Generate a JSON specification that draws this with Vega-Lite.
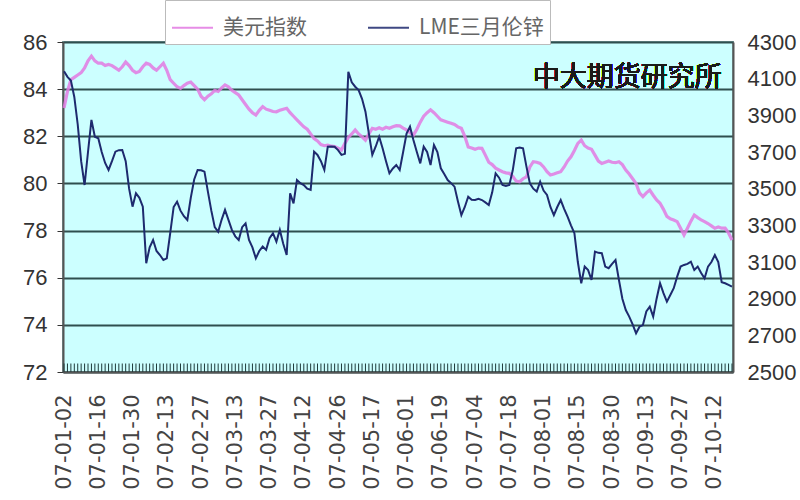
{
  "$schema": "https://vega.github.io/schema/vega-lite/v6.json",
  "width": 670,
  "height": 330,
  "autosize": {"type": "none"},
  "padding": {"left": 63, "top": 42, "right": 67, "bottom": 128},
  "background": "#FFFFFF",
  "config": {
    "view": {"fill": "#CCFFFF", "stroke": "#7A9A9A", "strokeWidth": 2},
    "axis": {"labelFont": "Liberation Sans", "labelColor": "#333333", "domainColor": "#555555", "domainWidth": 2, "tickColor": "#333333", "title": null}
  },
  "data": {"values": [
    {"d":"07-01-02","u":83.2,"z":4140},{"d":"07-01-03","u":83.9,"z":4110},{"d":"07-01-04","u":84.4,"z":4090},{"d":"07-01-05","u":84.5,"z":4000},
    {"d":"07-01-08","u":84.6,"z":3850},{"d":"07-01-09","u":84.7,"z":3650},{"d":"07-01-10","u":84.9,"z":3520},{"d":"07-01-11","u":85.2,"z":3700},
    {"d":"07-01-12","u":85.4,"z":3875},{"d":"07-01-15","u":85.2,"z":3783},{"d":"07-01-16","u":85.1,"z":3775},{"d":"07-01-17","u":85.1,"z":3700},
    {"d":"07-01-18","u":85.0,"z":3640},{"d":"07-01-19","u":85.05,"z":3602},{"d":"07-01-22","u":85.0,"z":3650},{"d":"07-01-23","u":84.9,"z":3702},
    {"d":"07-01-24","u":84.8,"z":3710},{"d":"07-01-25","u":84.95,"z":3711},{"d":"07-01-26","u":85.15,"z":3650},{"d":"07-01-29","u":85.0,"z":3500},
    {"d":"07-01-30","u":84.8,"z":3402},{"d":"07-01-31","u":84.7,"z":3475},{"d":"07-02-01","u":84.75,"z":3450},{"d":"07-02-02","u":84.95,"z":3402},
    {"d":"07-02-05","u":85.1,"z":3093},{"d":"07-02-06","u":85.05,"z":3180},{"d":"07-02-07","u":84.9,"z":3220},{"d":"07-02-08","u":84.8,"z":3160},
    {"d":"07-02-09","u":84.95,"z":3138},{"d":"07-02-12","u":85.1,"z":3111},{"d":"07-02-13","u":84.8,"z":3120},{"d":"07-02-14","u":84.4,"z":3257},
    {"d":"07-02-15","u":84.25,"z":3400},{"d":"07-02-16","u":84.1,"z":3429},{"d":"07-02-19","u":84.03,"z":3380},{"d":"07-02-20","u":84.15,"z":3350},
    {"d":"07-02-21","u":84.25,"z":3329},{"d":"07-02-22","u":84.3,"z":3450},{"d":"07-02-23","u":84.15,"z":3550},{"d":"07-02-26","u":84.0,"z":3602},
    {"d":"07-02-27","u":83.7,"z":3600},{"d":"07-02-28","u":83.55,"z":3593},{"d":"07-03-01","u":83.7,"z":3484},{"d":"07-03-02","u":83.8,"z":3380},
    {"d":"07-03-05","u":83.95,"z":3290},{"d":"07-03-06","u":83.9,"z":3265},{"d":"07-03-07","u":84.05,"z":3330},{"d":"07-03-08","u":84.18,"z":3384},
    {"d":"07-03-09","u":84.1,"z":3330},{"d":"07-03-12","u":83.95,"z":3275},{"d":"07-03-13","u":83.85,"z":3240},{"d":"07-03-14","u":83.75,"z":3220},
    {"d":"07-03-15","u":83.55,"z":3290},{"d":"07-03-16","u":83.35,"z":3311},{"d":"07-03-19","u":83.15,"z":3220},{"d":"07-03-20","u":83.0,"z":3180},
    {"d":"07-03-21","u":82.9,"z":3120},{"d":"07-03-22","u":83.1,"z":3160},{"d":"07-03-23","u":83.26,"z":3184},{"d":"07-03-26","u":83.15,"z":3166},
    {"d":"07-03-27","u":83.1,"z":3230},{"d":"07-03-28","u":83.05,"z":3257},{"d":"07-03-29","u":83.04,"z":3211},{"d":"07-03-30","u":83.1,"z":3275},
    {"d":"07-04-02","u":83.15,"z":3200},{"d":"07-04-03","u":83.19,"z":3138},{"d":"07-04-04","u":83.0,"z":3475},{"d":"07-04-05","u":82.85,"z":3420},
    {"d":"07-04-10","u":82.7,"z":3547},{"d":"07-04-11","u":82.55,"z":3530},{"d":"07-04-12","u":82.4,"z":3520},{"d":"07-04-13","u":82.3,"z":3500},
    {"d":"07-04-16","u":82.1,"z":3493},{"d":"07-04-17","u":81.9,"z":3702},{"d":"07-04-18","u":81.8,"z":3684},{"d":"07-04-19","u":81.65,"z":3650},
    {"d":"07-04-20","u":81.6,"z":3602},{"d":"07-04-23","u":81.62,"z":3729},{"d":"07-04-24","u":81.58,"z":3730},{"d":"07-04-25","u":81.56,"z":3729},
    {"d":"07-04-26","u":81.5,"z":3710},{"d":"07-04-27","u":81.42,"z":3684},{"d":"07-04-30","u":81.7,"z":3690},{"d":"07-05-08","u":81.95,"z":4138},
    {"d":"07-05-09","u":82.1,"z":4080},{"d":"07-05-10","u":82.27,"z":4056},{"d":"07-05-11","u":82.1,"z":4038},{"d":"07-05-14","u":81.98,"z":3990},
    {"d":"07-05-15","u":81.84,"z":3920},{"d":"07-05-16","u":82.1,"z":3800},{"d":"07-05-17","u":82.34,"z":3684},{"d":"07-05-18","u":82.3,"z":3730},
    {"d":"07-05-21","u":82.36,"z":3783},{"d":"07-05-22","u":82.3,"z":3720},{"d":"07-05-23","u":82.38,"z":3650},{"d":"07-05-24","u":82.34,"z":3584},
    {"d":"07-05-25","u":82.4,"z":3610},{"d":"07-05-29","u":82.45,"z":3629},{"d":"07-05-30","u":82.44,"z":3602},{"d":"07-05-31","u":82.35,"z":3700},
    {"d":"07-06-01","u":82.27,"z":3800},{"d":"07-06-04","u":82.15,"z":3838},{"d":"07-06-05","u":82.05,"z":3765},{"d":"07-06-06","u":82.3,"z":3700},
    {"d":"07-06-07","u":82.6,"z":3638},{"d":"07-06-11","u":82.85,"z":3729},{"d":"07-06-12","u":83.0,"z":3700},{"d":"07-06-13","u":83.12,"z":3629},
    {"d":"07-06-14","u":83.0,"z":3738},{"d":"07-06-18","u":82.85,"z":3700},{"d":"07-06-19","u":82.7,"z":3611},{"d":"07-06-20","u":82.65,"z":3580},
    {"d":"07-06-21","u":82.6,"z":3547},{"d":"07-06-22","u":82.55,"z":3530},{"d":"07-06-25","u":82.5,"z":3511},{"d":"07-06-26","u":82.4,"z":3430},
    {"d":"07-06-27","u":82.34,"z":3356},{"d":"07-06-28","u":82.0,"z":3400},{"d":"07-06-29","u":81.55,"z":3456},{"d":"07-07-03","u":81.5,"z":3440},
    {"d":"07-07-04","u":81.45,"z":3438},{"d":"07-07-05","u":81.5,"z":3445},{"d":"07-07-06","u":81.49,"z":3438},{"d":"07-07-09","u":81.2,"z":3425},
    {"d":"07-07-10","u":80.9,"z":3411},{"d":"07-07-11","u":80.8,"z":3480},{"d":"07-07-12","u":80.65,"z":3584},{"d":"07-07-13","u":80.57,"z":3560},
    {"d":"07-07-16","u":80.5,"z":3520},{"d":"07-07-17","u":80.45,"z":3515},{"d":"07-07-18","u":80.43,"z":3520},{"d":"07-07-19","u":80.3,"z":3600},
    {"d":"07-07-20","u":80.1,"z":3720},{"d":"07-07-23","u":80.07,"z":3725},{"d":"07-07-24","u":80.2,"z":3720},{"d":"07-07-25","u":80.28,"z":3620},
    {"d":"07-07-26","u":80.7,"z":3529},{"d":"07-07-27","u":80.92,"z":3500},{"d":"07-07-30","u":80.9,"z":3484},{"d":"07-07-31","u":80.85,"z":3538},
    {"d":"07-08-01","u":80.7,"z":3490},{"d":"07-08-02","u":80.5,"z":3466},{"d":"07-08-03","u":80.36,"z":3400},{"d":"07-08-06","u":80.4,"z":3356},
    {"d":"07-08-07","u":80.45,"z":3400},{"d":"07-08-08","u":80.5,"z":3438},{"d":"07-08-09","u":80.7,"z":3390},{"d":"07-08-10","u":80.95,"z":3347},
    {"d":"07-08-13","u":81.13,"z":3300},{"d":"07-08-14","u":81.4,"z":3257},{"d":"07-08-15","u":81.7,"z":3100},{"d":"07-08-16","u":81.84,"z":2984},
    {"d":"07-08-17","u":81.6,"z":3075},{"d":"07-08-20","u":81.5,"z":3056},{"d":"07-08-21","u":81.45,"z":3002},{"d":"07-08-22","u":81.2,"z":3157},
    {"d":"07-08-23","u":80.95,"z":3150},{"d":"07-08-24","u":80.85,"z":3148},{"d":"07-08-28","u":80.9,"z":3075},{"d":"07-08-29","u":80.95,"z":3066},
    {"d":"07-08-30","u":80.9,"z":3090},{"d":"07-08-31","u":80.88,"z":3111},{"d":"07-09-03","u":80.92,"z":3002},{"d":"07-09-04","u":80.8,"z":2900},
    {"d":"07-09-05","u":80.57,"z":2838},{"d":"07-09-06","u":80.4,"z":2802},{"d":"07-09-07","u":80.2,"z":2760},{"d":"07-09-10","u":80.0,"z":2711},
    {"d":"07-09-11","u":79.6,"z":2747},{"d":"07-09-12","u":79.44,"z":2756},{"d":"07-09-13","u":79.6,"z":2830},{"d":"07-09-14","u":79.72,"z":2856},
    {"d":"07-09-17","u":79.5,"z":2802},{"d":"07-09-18","u":79.3,"z":2900},{"d":"07-09-19","u":79.16,"z":2984},{"d":"07-09-20","u":78.9,"z":2930},
    {"d":"07-09-21","u":78.6,"z":2884},{"d":"07-09-24","u":78.5,"z":2920},{"d":"07-09-25","u":78.45,"z":2957},{"d":"07-09-26","u":78.38,"z":3020},
    {"d":"07-09-27","u":78.1,"z":3075},{"d":"07-09-28","u":77.81,"z":3084},{"d":"07-10-02","u":78.1,"z":3090},{"d":"07-10-03","u":78.4,"z":3102},
    {"d":"07-10-04","u":78.66,"z":3056},{"d":"07-10-05","u":78.55,"z":3075},{"d":"07-10-08","u":78.45,"z":3040},{"d":"07-10-09","u":78.38,"z":3011},
    {"d":"07-10-10","u":78.3,"z":3075},{"d":"07-10-11","u":78.2,"z":3100},{"d":"07-10-12","u":78.1,"z":3138},{"d":"07-10-15","u":78.15,"z":3100},
    {"d":"07-10-16","u":78.1,"z":2990},{"d":"07-10-17","u":78.1,"z":2984},{"d":"07-10-18","u":77.9,"z":2975},{"d":"07-10-19","u":77.6,"z":2966}
  ]},
  "encoding": {
    "x": {
      "field": "d", "type": "ordinal", "sort": null,
      "scale": {"type": "point", "padding": 0.3},
      "axis": {
        "labelAngle": -90, "labelOverlap": false, "labelFont": "DejaVu Sans", "labelFontSize": 21, "labelColor": "#444444",
        "labelPadding": 22, "ticks": false,
        "labelExpr": "indexof(['07-01-02','07-01-16','07-01-30','07-02-13','07-02-27','07-03-13','07-03-27','07-04-12','07-04-26','07-05-17','07-06-01','07-06-19','07-07-04','07-07-18','07-08-01','07-08-15','07-08-30','07-09-13','07-09-27','07-10-12'], datum.value) >= 0 ? datum.value : ''"
      }
    }
  },
  "layer": [
    {
      "layer": [
        {
          "mark": {"type": "rule", "color": "#1F3A3A", "strokeWidth": 1},
          "encoding": {
            "y": {"datum": 72},
            "y2": {"datum": 72.36}
          }
        },
        {
          "mark": {"type": "line", "strokeWidth": 3.2, "opacity": 0.85},
          "encoding": {
            "y": {
              "field": "u", "type": "quantitative",
              "scale": {"domain": [72, 86], "nice": false, "zero": false},
              "axis": {"orient": "left", "values": [72, 74, 76, 78, 80, 82, 84, 86], "grid": true, "gridColor": "#2F4F4F", "gridWidth": 2, "gridOpacity": 1, "labelFontSize": 22, "labelPadding": 10, "tickSize": 6}
            },
            "color": {"datum": "美元指数", "type": "nominal"}
          }
        },
        {
          "mark": {"type": "text", "align": "right", "baseline": "middle", "font": "Noto Sans CJK SC", "fontSize": 27, "color": "#1A1A1A"},
          "encoding": {
            "x": {"datum": "07-10-16"},
            "y": {"datum": 84.47},
            "text": {"value": "中大期货研究所"}
          }
        }
      ]
    },
    {
      "mark": {"type": "line", "strokeWidth": 2},
      "encoding": {
        "y": {
          "field": "z", "type": "quantitative",
          "scale": {"domain": [2500, 4300], "nice": false, "zero": false},
          "axis": {"orient": "right", "values": [2500, 2700, 2900, 3100, 3300, 3500, 3700, 3900, 4100, 4300], "format": "d", "grid": false, "labelFontSize": 22, "labelPadding": 14, "tickSize": 0}
        },
        "color": {
          "datum": "LME三月伦锌", "type": "nominal",
          "scale": {"domain": ["美元指数", "LME三月伦锌"], "range": ["#E27AE2", "#1E2A6E"]},
          "legend": {
            "title": null, "orient": "none", "direction": "horizontal", "legendX": 102, "legendY": -42,
            "symbolType": "stroke", "symbolSize": 1681, "symbolStrokeWidth": 2,
            "labelFont": "Noto Sans CJK SC", "labelFontSize": 21, "labelColor": "#666666", "labelOffset": 9, "labelLimit": 300,
            "columnPadding": 57, "padding": 6, "fillColor": "#FFFFFF", "strokeColor": "#BBBBBB"
          }
        }
      }
    }
  ],
  "resolve": {"scale": {"y": "independent"}}
}
